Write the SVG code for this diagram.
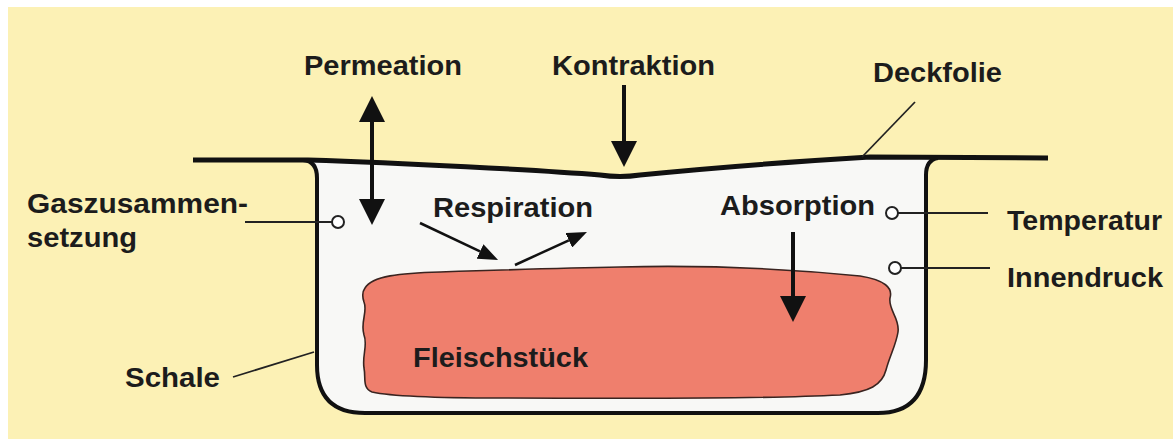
<svg xmlns="http://www.w3.org/2000/svg" width="1173" height="439" viewBox="0 0 1173 439">
<defs>
<style>
.lbl{font-family:"Liberation Sans",Arial,sans-serif;font-weight:bold;font-size:28px;fill:#1c1c1c}
.thick{stroke:#111;stroke-width:4;fill:none}
.thin{stroke:#111;stroke-width:2.5;fill:none}
.lead{stroke:#222;stroke-width:1.8;fill:none}
.sensor{fill:#fff;stroke:#222;stroke-width:2}
</style>
<marker id="bigHead" markerUnits="userSpaceOnUse" markerWidth="26" markerHeight="26" viewBox="0 0 24 24" refX="0" refY="12" orient="auto-start-reverse">
<path d="M0,0 L24,12 L0,24 Z" fill="#111"/>
</marker>
<marker id="smallHead" markerUnits="userSpaceOnUse" markerWidth="20" markerHeight="16" viewBox="0 0 20 16" refX="0" refY="8" orient="auto">
<path d="M0,0 L20,8 L0,16 Z" fill="#111"/>
</marker>
</defs>
<rect x="0" y="0" width="1173" height="439" fill="#ffffff"/>
<rect x="8" y="7" width="1165" height="432" fill="#fcf1b5"/>

<g id="schale">
<path d="M 308 160 C 400 163 540 170 600 175 Q 620 178 640 175 C 720 167 820 160 870 157 L 933 158 Q 926 160 926 175 L 926 360 Q 926 413 878 413 L 365 413 Q 317 413 317 365 L 317 178 Q 317 162 303 160 Z" fill="#f8f8f6"/>
<path d="M 303 160 Q 317 161 317 178 L 317 365 Q 317 413 365 413 L 878 413 Q 926 413 926 360 L 926 175 Q 926 160 938 158" fill="none" stroke="#111" stroke-width="4"/>
</g>

<g id="fleischstueck">
<path d="M 365 288 C 372 276 400 273 440 272 C 500 270 560 268 620 267 C 700 265 780 268 860 276 C 885 280 893 288 890 298 C 888 310 900 318 898 332 C 896 345 890 355 886 370 C 882 385 870 392 840 395 C 740 400 600 398 500 398 C 440 398 390 396 372 392 C 362 388 366 378 364 368 C 362 355 368 345 364 335 C 360 322 368 312 364 302 C 362 296 362 292 365 288 Z" fill="#ef7f6d" stroke="#3a2420" stroke-width="1.6"/>
</g>

<g id="deckfolie">
<path d="M 193 160 L 308 160 C 400 163 540 170 600 175 Q 620 178 640 175 C 720 167 820 160 870 157 L 1048 158" fill="none" stroke="#111" stroke-width="5" stroke-linejoin="round"/>
</g>

<g id="connectors">
<line class="thick" x1="372" y1="122" x2="372" y2="199" marker-start="url(#bigHead)" marker-end="url(#bigHead)"/>
<line class="thick" x1="624" y1="85" x2="624" y2="141" marker-end="url(#bigHead)"/>
<line class="thick" x1="793" y1="232" x2="793" y2="296" marker-end="url(#bigHead)"/>
<line class="thin" x1="420" y1="223" x2="480" y2="251.4" marker-end="url(#smallHead)"/>
<line class="thin" x1="515" y1="265" x2="568.8" y2="240.3" marker-end="url(#smallHead)"/>
<line class="lead" x1="245" y1="222" x2="332" y2="222"/>
<line class="lead" x1="898" y1="213" x2="988" y2="213"/>
<line class="lead" x1="901" y1="268" x2="990" y2="268"/>
<line class="lead" x1="915" y1="102" x2="862" y2="157"/>
<line class="lead" x1="233" y1="377" x2="314" y2="352"/>
</g>

<g id="sensoren">
<circle class="sensor" cx="338" cy="222" r="6"/>
<circle class="sensor" cx="892" cy="213" r="6"/>
<circle class="sensor" cx="895" cy="268" r="6"/>
</g>

<g id="labels">
<text class="lbl" x="304" y="75" textLength="158" lengthAdjust="spacingAndGlyphs">Permeation</text>
<text class="lbl" x="552" y="75" textLength="163" lengthAdjust="spacingAndGlyphs">Kontraktion</text>
<text class="lbl" x="873" y="82" textLength="129" lengthAdjust="spacingAndGlyphs">Deckfolie</text>
<text class="lbl" x="27" y="213" textLength="221" lengthAdjust="spacingAndGlyphs">Gaszusammen-</text>
<text class="lbl" x="27" y="247" textLength="110" lengthAdjust="spacingAndGlyphs">setzung</text>
<text class="lbl" x="433" y="217" textLength="160" lengthAdjust="spacingAndGlyphs">Respiration</text>
<text class="lbl" x="720" y="215" textLength="155" lengthAdjust="spacingAndGlyphs">Absorption</text>
<text class="lbl" x="1007" y="230" textLength="155" lengthAdjust="spacingAndGlyphs">Temperatur</text>
<text class="lbl" x="1007" y="287" textLength="156" lengthAdjust="spacingAndGlyphs">Innendruck</text>
<text class="lbl" x="125" y="387" textLength="95" lengthAdjust="spacingAndGlyphs">Schale</text>
<text class="lbl" x="413" y="367" textLength="175" lengthAdjust="spacingAndGlyphs">Fleischstück</text>
</g>
</svg>
